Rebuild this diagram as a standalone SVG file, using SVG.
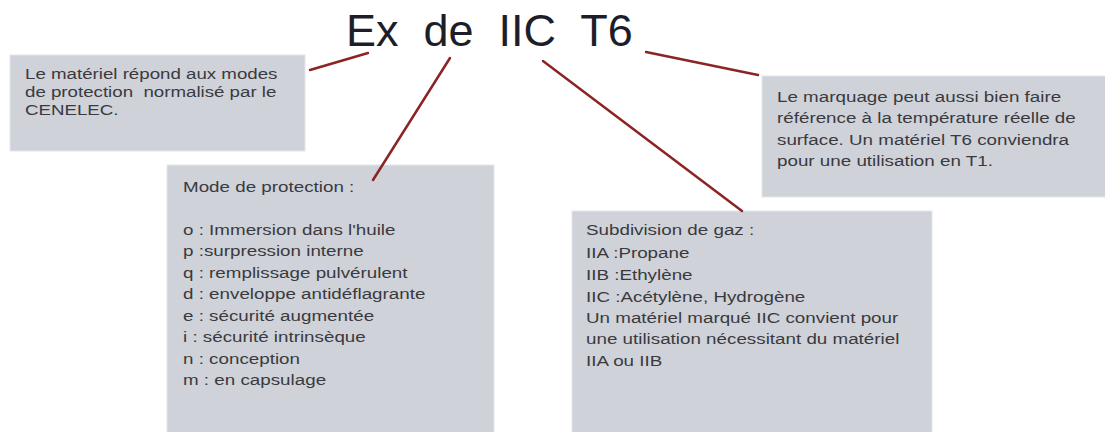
<svg xmlns="http://www.w3.org/2000/svg" width="1105" height="432" viewBox="0 0 1105 432">
<style>
.box{fill:#cfd2d9;stroke:#e4e6ea;stroke-width:1}
.t{font-family:"Liberation Sans",Arial,sans-serif;fill:#3a3a3e}
.t15{font-size:15.5px}
.t14{font-size:14.5px}
.title{font-family:"Liberation Sans",Arial,sans-serif;font-size:45px;fill:#1e1e2a}
.conn line{stroke:#8b2424;stroke-width:2.5;stroke-linecap:round}
</style>
<rect x="0" y="0" width="1105" height="432" fill="#ffffff"/>
<g id="title">
<text class="title" x="346" y="46" xml:space="preserve">Ex  de  IIC  T6</text>
</g>
<g id="box-cenelec">
<rect class="box" x="10" y="55" width="295" height="96"/>
<g transform="translate(25,0) scale(1.29,1)">
<text class="t t14" x="0" y="79">Le matériel répond aux modes</text>
<text class="t t14" x="0" y="97" xml:space="preserve">de protection  normalisé par le</text>
<text class="t t14" x="0" y="115">CENELEC.</text>
</g>
</g>
<g id="box-protection">
<rect class="box" x="167" y="165" width="327" height="280"/>
<g transform="translate(183,0) scale(1.213,1)">
<text class="t t15" x="0" y="192">Mode de protection :</text>
<text class="t t15" x="0" y="235">o : Immersion dans l'huile</text>
<text class="t t15" x="0" y="256.5">p :surpression interne</text>
<text class="t t15" x="0" y="278">q : remplissage pulvérulent</text>
<text class="t t15" x="0" y="299.5">d : enveloppe antidéflagrante</text>
<text class="t t15" x="0" y="321">e : sécurité augmentée</text>
<text class="t t15" x="0" y="342.5">i : sécurité intrinsèque</text>
<text class="t t15" x="0" y="364">n : conception</text>
<text class="t t15" x="0" y="385.5">m : en capsulage</text>
</g>
</g>
<g id="box-gaz">
<rect class="box" x="572" y="211" width="360" height="235"/>
<g transform="translate(586,0) scale(1.213,1)">
<text class="t t15" x="0" y="235">Subdivision de gaz :</text>
<text class="t t15" x="0" y="258">IIA :Propane</text>
<text class="t t15" x="0" y="280">IIB :Ethylène</text>
<text class="t t15" x="0" y="302">IIC :Acétylène, Hydrogène</text>
<text class="t t15" x="0" y="323">Un matériel marqué IIC convient pour</text>
<text class="t t15" x="0" y="344.5">une utilisation nécessitant du matériel</text>
<text class="t t15" x="0" y="366">IIA ou IIB</text>
</g>
</g>
<g id="box-temperature">
<rect class="box" x="762" y="76" width="350" height="121"/>
<g transform="translate(777,0) scale(1.213,1)">
<text class="t t15" x="0" y="102">Le marquage peut aussi bien faire</text>
<text class="t t15" x="0" y="123.5">référence à la température réelle de</text>
<text class="t t15" x="0" y="145">surface. Un matériel T6 conviendra</text>
<text class="t t15" x="0" y="166.5">pour une utilisation en T1.</text>
</g>
</g>
<g id="connectors" class="conn">
<line x1="310" y1="70" x2="368" y2="53"/>
<line x1="450" y1="58" x2="373" y2="180"/>
<line x1="543" y1="61" x2="742" y2="211"/>
<line x1="646" y1="52" x2="758" y2="75"/>
</g>
</svg>
